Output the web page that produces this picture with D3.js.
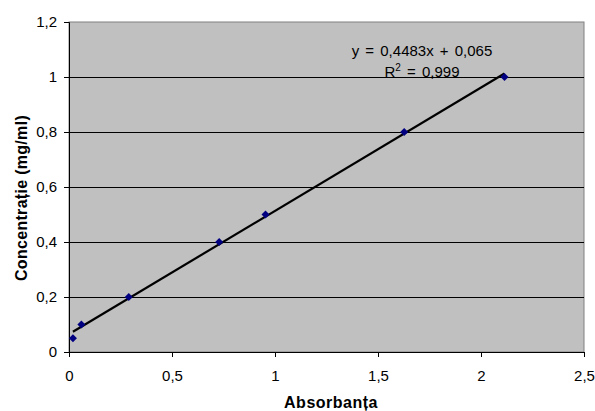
<!DOCTYPE html>
<html>
<head>
<meta charset="utf-8">
<script src="https://cdn.jsdelivr.net/npm/d3@7"></script>
<style>
  body { margin: 0; background: #fff; }
  text { font-family: "Liberation Sans", Arial, sans-serif; }
</style>
</head>
<body>
<svg id="chart" width="595" height="411"></svg>
<script>
// data
var absorbance = [0.019, 0.060, 0.290, 0.729, 0.954, 1.627, 2.114];
var concentration = [0.05, 0.1, 0.2, 0.4, 0.5, 0.8, 1.0];
var xTicks = [0, 0.5, 1, 1.5, 2, 2.5];
var yTicks = [0, 0.2, 0.4, 0.6, 0.8, 1, 1.2];
var slope = 0.4483, intercept = 0.065;
var eqText = "y = 0,4483x + 0,065";
var r2Text = "0,999";

var margin = { top: 22, right: 11, bottom: 59, left: 69 };
var width = 595 - margin.left - margin.right;
var height = 411 - margin.top - margin.bottom;

var svg = d3.select("#chart")
  .append("g")
  .attr("transform", "translate(" + margin.left + "," + margin.top + ")");

var x = d3.scaleLinear().domain([0, 2.5]).range([0, width]);
var y = d3.scaleLinear().domain([0, 1.2]).range([height, 0]);
var fmt = function(d) { return String(d).replace(".", ","); };

// plot background
svg.append("rect")
  .attr("width", width)
  .attr("height", height)
  .style("fill", "#c0c0c0")
  .style("stroke", "#808080")
  .style("stroke-width", 1);

// gridlines
svg.selectAll(".grid")
  .data(yTicks.filter(function(d) { return d > 0 && d < 1.2; }))
  .enter().append("line")
  .attr("x1", 0).attr("x2", width)
  .attr("y1", function(d) { return Math.round(y(d)) + 0.5; })
  .attr("y2", function(d) { return Math.round(y(d)) + 0.5; })
  .style("stroke", "#000")
  .style("stroke-width", 1);

// axes
var xAxis = svg.append("g")
  .attr("transform", "translate(0," + height + ")")
  .call(d3.axisBottom(x).tickValues(xTicks).tickFormat(fmt).tickSize(5).tickPadding(13));
var yAxis = svg.append("g")
  .call(d3.axisLeft(y).tickValues(yTicks).tickFormat(fmt).tickSize(5).tickPadding(7));
[xAxis, yAxis].forEach(function(a) {
  a.select(".domain").style("stroke", "#000");
  a.selectAll(".tick line").style("stroke", "#000");
  a.selectAll("text")
    .attr("font-size", "15px")
    .style("font-family", "'Liberation Sans', Arial, sans-serif")
    .style("fill", "#000");
});

// trendline
var x0 = d3.min(absorbance), x1 = d3.max(absorbance);
svg.append("line")
  .attr("x1", x(x0)).attr("y1", y(slope * x0 + intercept))
  .attr("x2", x(x1)).attr("y2", y(slope * x1 + intercept))
  .style("stroke", "#000")
  .style("stroke-width", 2.2);

// points
svg.selectAll(".pt")
  .data(absorbance)
  .enter().append("path")
  .attr("class", "pt")
  .attr("transform", function(d, i) { return "translate(" + x(d) + "," + y(concentration[i]) + ")"; })
  .attr("d", "M0,-4L4,0L0,4L-4,0Z")
  .style("fill", "#000080");

// equation
svg.append("text")
  .attr("x", 353).attr("y", 33.5)
  .attr("text-anchor", "middle")
  .attr("font-size", "15px")
  .attr("word-spacing", "2px")
  .text(eqText);
var r2 = svg.append("text")
  .attr("x", 353).attr("y", 55)
  .attr("text-anchor", "middle")
  .attr("font-size", "15px")
  .attr("word-spacing", "2px");
r2.append("tspan").text("R");
r2.append("tspan").attr("font-size", "10px").attr("dy", -6).text("2");
r2.append("tspan").attr("dy", 6).text(" = " + r2Text);

// axis titles
svg.append("text")
  .attr("x", 331 - margin.left)
  .attr("y", 408 - margin.top)
  .attr("text-anchor", "middle")
  .attr("font-size", "16px")
  .attr("font-weight", "bold")
  .attr("letter-spacing", "0.5px")
  .text("Absorbanța");
svg.append("text")
  .attr("transform", "rotate(-90)")
  .attr("x", -(198 - margin.top))
  .attr("y", 27 - margin.left)
  .attr("text-anchor", "middle")
  .attr("font-size", "16px")
  .attr("font-weight", "bold")
  .attr("letter-spacing", "0.3px")
  .text("Concentrație (mg/ml)");
</script>
</body>
</html>
